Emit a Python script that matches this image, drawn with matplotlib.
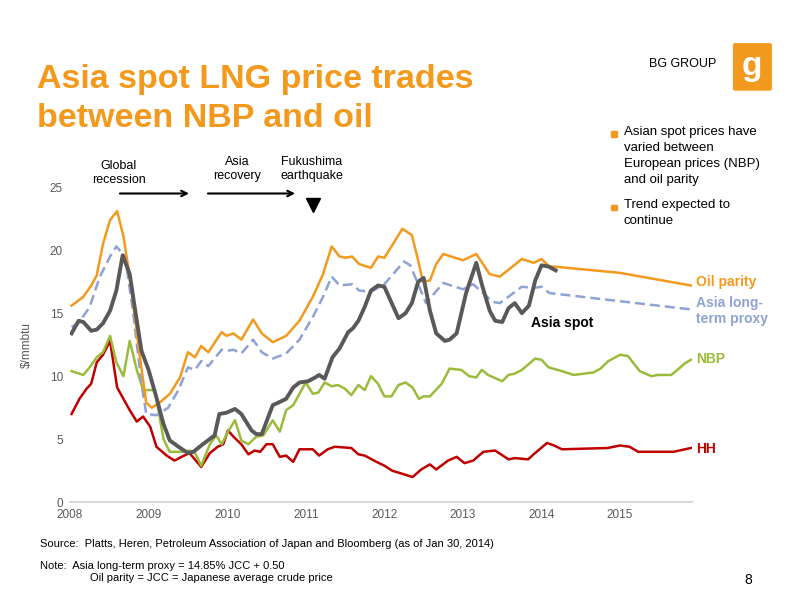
import matplotlib
matplotlib.use("Agg")
import matplotlib.pyplot as plt
from matplotlib.patches import FancyBboxPatch

plt.rcParams['font.family'] = ['Liberation Sans', 'DejaVu Sans']

# data (decimal year, $/mmbtu)
oil_x = [2008.02, 2008.17, 2008.27, 2008.34, 2008.42, 2008.51, 2008.6, 2008.68, 2008.76, 2008.89, 2008.97,
         2009.04, 2009.14, 2009.27, 2009.4, 2009.5, 2009.59, 2009.67, 2009.76, 2009.93, 2009.99, 2010.08,
         2010.18, 2010.33, 2010.44, 2010.58, 2010.75, 2010.92, 2011.09, 2011.22, 2011.33, 2011.43, 2011.51,
         2011.59, 2011.68, 2011.83, 2011.92, 2012.0, 2012.23, 2012.35, 2012.43, 2012.49, 2012.58, 2012.66,
         2012.75, 2013.0, 2013.17, 2013.34, 2013.47, 2013.75, 2013.9, 2014.0, 2014.1, 2014.16, 2015.0, 2015.9]
oil_y = [15.6, 16.3, 17.2, 18.0, 20.5, 22.4, 23.1, 21.1, 17.9, 11.5, 7.9,
         7.5, 7.9, 8.6, 9.9, 11.9, 11.5, 12.4, 11.9, 13.5, 13.2, 13.4,
         12.9, 14.5, 13.4, 12.7, 13.2, 14.4, 16.3, 18.1, 20.3, 19.5, 19.4,
         19.5, 18.9, 18.6, 19.5, 19.4, 21.7, 21.2, 19.2, 17.5, 17.6, 18.9,
         19.7, 19.2, 19.7, 18.1, 17.9, 19.3, 19.0, 19.3, 18.7, 18.7, 18.2, 17.2]

proxy_x = [2008.02, 2008.12, 2008.25, 2008.38, 2008.51, 2008.59, 2008.7, 2008.8, 2008.91, 2008.97, 2009.1,
           2009.25, 2009.38, 2009.5, 2009.59, 2009.67, 2009.76, 2009.93, 2009.99, 2010.08, 2010.18, 2010.33,
           2010.44, 2010.58, 2010.75, 2010.92, 2011.09, 2011.22, 2011.33, 2011.43, 2011.59, 2011.68, 2011.83,
           2012.0, 2012.25, 2012.33, 2012.53, 2012.75, 2013.0, 2013.13, 2013.38, 2013.47, 2013.75, 2013.9,
           2014.0, 2014.1, 2015.9]
proxy_y = [13.9, 14.3, 15.5, 17.9, 19.5, 20.3, 19.5, 15.2, 9.4, 7.0, 6.9,
           7.5, 8.9, 10.7, 10.5, 11.2, 10.8, 12.1, 12.0, 12.1, 11.8, 12.9,
           11.9, 11.4, 11.8, 12.9, 14.7, 16.3, 17.9, 17.2, 17.3, 16.8, 16.7,
           17.3, 19.1, 18.8, 15.8, 17.4, 16.9, 17.3, 15.9, 15.8, 17.1, 17.0,
           17.1, 16.6, 15.3]

spot_x = [2008.02, 2008.11, 2008.17, 2008.27, 2008.34, 2008.42, 2008.51, 2008.59, 2008.67, 2008.76, 2008.83,
          2008.91, 2009.0, 2009.1, 2009.19, 2009.27, 2009.38, 2009.5, 2009.57, 2009.69, 2009.84, 2009.9,
          2009.99, 2010.1, 2010.18, 2010.31, 2010.37, 2010.44, 2010.58, 2010.65, 2010.75, 2010.84, 2010.92,
          2011.03, 2011.12, 2011.17, 2011.24, 2011.34, 2011.43, 2011.54, 2011.6, 2011.67, 2011.75, 2011.83,
          2011.92, 2012.0, 2012.18, 2012.27, 2012.35, 2012.43, 2012.5, 2012.58, 2012.66, 2012.77, 2012.83,
          2012.92, 2013.04, 2013.17, 2013.24, 2013.34, 2013.41, 2013.5, 2013.58, 2013.66, 2013.75, 2013.84,
          2013.92, 2014.0, 2014.09, 2014.18]
spot_y = [13.4, 14.4, 14.3, 13.6, 13.7, 14.2, 15.2, 16.8, 19.6, 18.1, 15.2,
          12.0, 10.5, 8.3, 6.2, 4.9, 4.4, 3.9, 4.0, 4.6, 5.3, 7.0,
          7.1, 7.4, 7.0, 5.7, 5.4, 5.4, 7.7, 7.9, 8.2, 9.1, 9.5,
          9.6, 9.9, 10.1, 9.8, 11.5, 12.2, 13.5, 13.8, 14.4, 15.5, 16.8,
          17.2, 17.1, 14.6, 15.0, 15.8, 17.5, 17.8, 15.2, 13.4, 12.8, 12.9,
          13.4, 16.6, 19.0, 17.3, 15.2, 14.4, 14.3, 15.4, 15.8, 15.0, 15.6,
          17.6, 18.8, 18.7, 18.4]

nbp_x = [2008.02, 2008.17, 2008.25, 2008.34, 2008.42, 2008.51, 2008.59, 2008.68, 2008.76, 2008.85, 2008.93,
         2009.08, 2009.19, 2009.27, 2009.44, 2009.52, 2009.59, 2009.67, 2009.78, 2009.86, 2009.93, 2010.01,
         2010.1, 2010.18, 2010.27, 2010.37, 2010.46, 2010.58, 2010.67, 2010.75, 2010.84, 2010.92, 2011.0,
         2011.09, 2011.16, 2011.24, 2011.33, 2011.41, 2011.5, 2011.58, 2011.67, 2011.75, 2011.83, 2011.92,
         2012.0, 2012.09, 2012.18, 2012.27, 2012.36, 2012.44, 2012.5, 2012.58, 2012.73, 2012.83, 2012.98,
         2013.08, 2013.17, 2013.24, 2013.32, 2013.5, 2013.58, 2013.66, 2013.75, 2013.92, 2014.0, 2014.09,
         2014.26, 2014.41, 2014.66, 2014.75, 2014.85, 2015.0, 2015.1, 2015.25, 2015.4, 2015.48, 2015.65,
         2015.73, 2015.82, 2015.9]
nbp_y = [10.4, 10.1, 10.7, 11.5, 11.9, 13.2, 11.1, 10.0, 12.8, 10.5, 8.9,
         8.9, 5.0, 4.0, 4.0, 4.1, 3.9, 2.9, 4.6, 5.3, 4.6, 5.6,
         6.5, 4.9, 4.6, 5.2, 5.3, 6.5, 5.6, 7.3, 7.7, 8.6, 9.5,
         8.6, 8.7, 9.5, 9.2, 9.3, 9.0, 8.5, 9.3, 8.9, 10.0, 9.4,
         8.4, 8.4, 9.3, 9.5, 9.1, 8.2, 8.4, 8.4, 9.4, 10.6, 10.5,
         10.0, 9.9, 10.5, 10.1, 9.6, 10.1, 10.2, 10.5, 11.4, 11.3, 10.7,
         10.4, 10.1, 10.3, 10.6, 11.2, 11.7, 11.6, 10.4, 10.0, 10.1, 10.1,
         10.5, 11.0, 11.3]

hh_x = [2008.02, 2008.12, 2008.21, 2008.27, 2008.34, 2008.42, 2008.51, 2008.6, 2008.68, 2008.76, 2008.85,
        2008.93, 2009.02, 2009.1, 2009.23, 2009.33, 2009.42, 2009.52, 2009.67, 2009.78, 2009.88, 2009.95,
        2010.01, 2010.08, 2010.18, 2010.27, 2010.35, 2010.42, 2010.5, 2010.58, 2010.67, 2010.75, 2010.84,
        2010.92, 2011.09, 2011.17, 2011.28, 2011.37, 2011.58, 2011.67, 2011.75, 2011.9, 2012.0, 2012.1,
        2012.36, 2012.47, 2012.58, 2012.66, 2012.81, 2012.92, 2013.02, 2013.13, 2013.26, 2013.41, 2013.58,
        2013.66, 2013.83, 2013.9, 2014.07, 2014.16, 2014.26, 2014.84, 2015.0, 2015.12, 2015.23, 2015.68, 2015.9]
hh_y = [7.0, 8.2, 9.0, 9.4, 11.1, 11.7, 12.8, 9.1, 8.2, 7.3, 6.4,
        6.8, 6.0, 4.4, 3.7, 3.3, 3.6, 3.9, 2.8, 3.9, 4.4, 4.6,
        5.7, 5.2, 4.6, 3.8, 4.1, 4.0, 4.6, 4.6, 3.6, 3.7, 3.2,
        4.2, 4.2, 3.7, 4.2, 4.4, 4.3, 3.8, 3.7, 3.2, 2.9, 2.5,
        2.0, 2.6, 3.0, 2.6, 3.3, 3.6, 3.1, 3.3, 4.0, 4.1, 3.4,
        3.5, 3.4, 3.8, 4.7, 4.5, 4.2, 4.3, 4.5, 4.4, 4.0, 4.0, 4.3]

years = [2008, 2009, 2010, 2011, 2012, 2013, 2014, 2015]
yticks = [0, 5, 10, 15, 20, 25]

ORANGE = "#F39A1E"
BLUE = "#8EA2D4"
GREY = "#595959"
GREEN = "#9BBB3B"
RED = "#C00000"

fig = plt.figure(figsize=(8, 6), dpi=100)
ax = fig.add_axes([0.0875, 0.163, 0.778, 0.525])

ax.plot(hh_x, hh_y, color=RED, lw=1.8)
ax.plot(nbp_x, nbp_y, color=GREEN, lw=1.8)
ax.plot(proxy_x, proxy_y, color=BLUE, lw=1.8, dashes=(4, 2))
ax.plot(oil_x, oil_y, color=ORANGE, lw=1.8)
ax.plot(spot_x, spot_y, color=GREY, lw=2.8)

ax.set_xlim(2008, 2015.92)
ax.set_ylim(0, 25)
ax.set_xticks(years)
ax.set_xticklabels([str(y) for y in years])
ax.set_yticks(yticks)
ax.tick_params(length=0, labelsize=8.5, colors="#595959", pad=5)
for s in ["top", "right", "left"]:
    ax.spines[s].set_visible(False)
ax.spines["bottom"].set_color("#D9D9D9")
ax.spines["bottom"].set_linewidth(1.5)
ax.set_ylabel("$/mmbtu", fontsize=8.5, color="#595959", labelpad=12)
ax.patch.set_alpha(0)

# series labels
ax.text(2015.97, 17.5, "Oil parity", color=ORANGE, fontsize=10, fontweight="bold", va="center", clip_on=False)
ax.text(2015.97, 15.2, "Asia long-\nterm proxy", color=BLUE, fontsize=10, fontweight="bold", va="center",
        clip_on=False, linespacing=1.2)
ax.text(2015.97, 11.4, "NBP", color=GREEN, fontsize=10, fontweight="bold", va="center", clip_on=False)
ax.text(2015.97, 4.2, "HH", color=RED, fontsize=10, fontweight="bold", va="center", clip_on=False)
ax.text(2013.87, 14.2, "Asia spot", color="black", fontsize=10, fontweight="bold", va="center")

# annotations
ax.text(2008.62, 25.1, "Global\nrecession", fontsize=9, ha="center", va="bottom", clip_on=False, linespacing=1.25)
ax.text(2010.13, 25.4, "Asia\nrecovery", fontsize=9, ha="center", va="bottom", clip_on=False, linespacing=1.25)
ax.text(2011.08, 25.4, "Fukushima\nearthquake", fontsize=9, ha="center", va="bottom", clip_on=False,
        linespacing=1.25)
ax.annotate("", xy=(2009.55, 24.5), xytext=(2008.6, 24.5),
            arrowprops=dict(arrowstyle="->", lw=1.5, color="black"), annotation_clip=False)
ax.annotate("", xy=(2010.9, 24.5), xytext=(2009.72, 24.5),
            arrowprops=dict(arrowstyle="->", lw=1.5, color="black"), annotation_clip=False)
ax.plot([2011.09], [23.6], marker="v", color="black", markersize=10, clip_on=False)

# title
fig.text(0.046, 0.835, "Asia spot LNG price trades\nbetween NBP and oil", color=ORANGE, fontsize=24.5,
         fontweight="bold", va="center", linespacing=1.3)

# logo
fig.text(0.895, 0.893, "BG GROUP", fontsize=9, ha="right", va="center")
fig.patches.append(FancyBboxPatch((0.919, 0.852), 0.043, 0.073, boxstyle="round,pad=0.002",
                                  transform=fig.transFigure, color=ORANGE))
fig.text(0.94, 0.89, "g", fontsize=24, fontweight="bold", color="white", ha="center", va="center")

# bullets
fig.patches.append(plt.Rectangle((0.764, 0.772), 0.007, 0.009, transform=fig.transFigure, color=ORANGE))
fig.text(0.78, 0.79, "Asian spot prices have\nvaried between\nEuropean prices (NBP)\nand oil parity",
         fontsize=9.5, va="top", linespacing=1.45)
fig.patches.append(plt.Rectangle((0.764, 0.65), 0.007, 0.009, transform=fig.transFigure, color=ORANGE))
fig.text(0.78, 0.668, "Trend expected to\ncontinue", fontsize=9.5, va="top", linespacing=1.45)

# footnotes
fig.text(0.05, 0.093, "Source:  Platts, Heren, Petroleum Association of Japan and Bloomberg (as of Jan 30, 2014)",
         fontsize=8, va="center")
fig.text(0.05, 0.057, "Note:  Asia long-term proxy = 14.85% JCC + 0.50", fontsize=8, va="center")
fig.text(0.113, 0.037, "Oil parity = JCC = Japanese average crude price", fontsize=8, va="center")
fig.text(0.94, 0.033, "8", fontsize=10, va="center", ha="right")

fig.savefig("out.png", dpi=100)
